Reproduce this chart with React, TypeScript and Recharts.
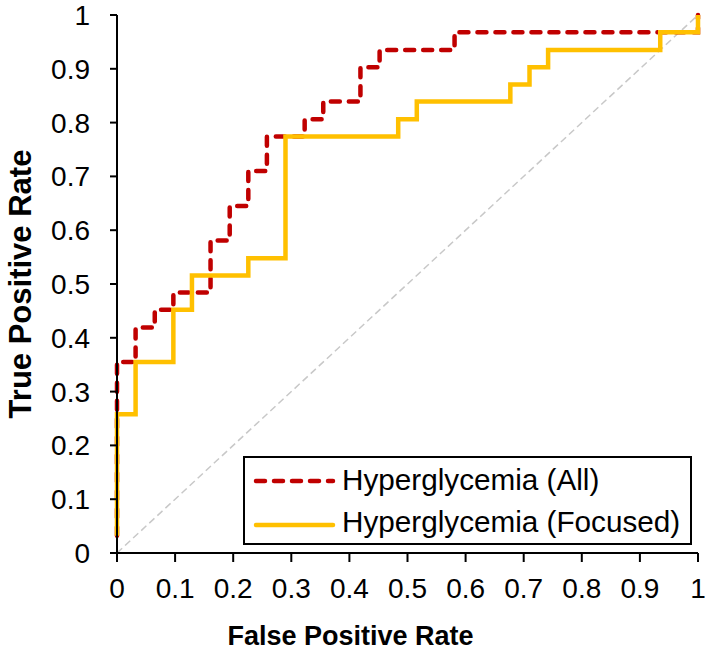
import React from 'react';
import { Legend, Line, LineChart, XAxis, YAxis } from 'recharts';

const ticks = [0, 0.1, 0.2, 0.3, 0.4, 0.5, 0.6, 0.7, 0.8, 0.9, 1];

// ROC points (step changes)
const allFpr = [0, 0, 0.032, 0.065, 0.097, 0.161, 0.194, 0.226, 0.258, 0.323, 0.355, 0.419, 0.452, 0.581, 1];
const allTpr = [0.032, 0.355, 0.419, 0.452, 0.484, 0.581, 0.645, 0.71, 0.774, 0.806, 0.839, 0.903, 0.935, 0.968, 1];

const focusedFpr = [0, 0, 0.032, 0.097, 0.129, 0.226, 0.29, 0.484, 0.516, 0.677, 0.71, 0.742, 0.935, 1];
const focusedTpr = [0.032, 0.258, 0.355, 0.452, 0.516, 0.548, 0.774, 0.806, 0.839, 0.871, 0.903, 0.935, 0.968, 1];

const chanceFpr = [0, 1];
const chanceTpr = [0, 1];

const toPoints = (xs: number[], ys: number[]) => xs.map((x, i) => ({ x, y: ys[i] }));
const allData = toPoints(allFpr, allTpr);
const focusedData = toPoints(focusedFpr, focusedTpr);
const chanceData = toPoints(chanceFpr, chanceTpr);

const FONT = '"Liberation Sans", Arial, sans-serif';
const RED = '#C00000';
const YELLOW = '#FFC000';

function XTick(props: any) {
  const { x, y, payload } = props;
  return (
    <text x={x} y={y} dy="0.716em" textAnchor="middle" fontFamily={FONT} fontSize={28} fill="#000">
      {String(payload.value)}
    </text>
  );
}

function YTick(props: any) {
  const { x, y, payload } = props;
  return (
    <text x={x} y={y} dy="0.36em" textAnchor="end" fontFamily={FONT} fontSize={28} fill="#000">
      {String(payload.value)}
    </text>
  );
}

function YTitle(props: any) {
  const { viewBox } = props;
  const cx = viewBox.x + 20;
  const cy = viewBox.y + viewBox.height / 2;
  return (
    <text x={cx} y={cy} transform={`rotate(-90, ${cx}, ${cy})`} textAnchor="middle" dominantBaseline="central"
      fontFamily={FONT} fontSize={31} fontWeight="bold" fill="#000">
      True Positive Rate
    </text>
  );
}

function XTitle(props: any) {
  const { viewBox } = props;
  const cx = viewBox.x + viewBox.width / 2 - 57;
  const by = viewBox.y + 92;
  return (
    <text x={cx} y={by} textAnchor="middle"
      fontFamily={FONT} fontSize={27} fontWeight="bold" fill="#000">
      False Positive Rate
    </text>
  );
}

function LegendBox() {
  const rows = [
    { name: 'Hyperglycemia (All)', color: RED, dash: '9 9' },
    { name: 'Hyperglycemia (Focused)', color: YELLOW, dash: undefined },
  ];
  return (
    <div style={{ width: 449, height: 89, boxSizing: 'border-box', border: '2px solid #000', background: '#fff', fontFamily: FONT }}>
      {rows.map((r, i) => (
        <div key={r.name} style={{ display: 'flex', alignItems: 'center', height: 42, marginTop: i === 0 ? 1 : 0 }}>
          <svg width={97} height={20} style={{ flex: 'none' }}>
            <line x1={11} y1={i === 0 ? 11 : 13} x2={88} y2={i === 0 ? 11 : 13} stroke={r.color} strokeWidth={4.5}
              strokeDasharray={r.dash} strokeLinecap="round" />
          </svg>
          <span style={{ fontSize: 29.7, lineHeight: '34px', color: '#000', whiteSpace: 'nowrap' }}>{r.name}</span>
        </div>
      ))}
    </div>
  );
}

export default function App() {
  return (
    <div style={{ position: 'absolute', left: 0, top: 0, background: '#fff' }}>
      <LineChart width={705} height={650} margin={{ top: 15, right: 7, bottom: 0, left: 0 }}>
        <XAxis dataKey="x" type="number" domain={[0, 1]} ticks={ticks} interval={0} height={97}
          tick={<XTick />} tickSize={9} tickMargin={16}
          axisLine={{ stroke: '#000', strokeWidth: 2 }} tickLine={{ stroke: '#000', strokeWidth: 2 }}
          label={<XTitle />} />
        <YAxis type="number" domain={[0, 1]} ticks={ticks} interval={0} width={117}
          tick={<YTick />} tickSize={7} tickMargin={20}
          axisLine={{ stroke: '#000', strokeWidth: 2 }} tickLine={{ stroke: '#000', strokeWidth: 2 }}
          label={<YTitle />} />
        <XAxis xAxisId="top" orientation="top" type="number" domain={[0, 1]} height={0} tick={false} tickLine={false}
          axisLine={{ stroke: '#222', strokeWidth: 2 }} />
        <YAxis yAxisId="right" orientation="right" type="number" domain={[0, 1]} width={0} tick={false} tickLine={false}
          axisLine={{ stroke: '#000', strokeWidth: 2 }} />
        <Legend layout="vertical" align="center" verticalAlign="middle" content={<LegendBox />}
          wrapperStyle={{ left: 243, top: 456, width: 449, height: 89 }} />
        <Line data={chanceData} dataKey="y" type="linear" stroke="#c8c8c8" strokeWidth={1.5} strokeDasharray="7 4"
          dot={false} activeDot={false} isAnimationActive={false} legendType="none" />
        <Line data={allData} dataKey="y" name="Hyperglycemia (All)" type="stepAfter" stroke={RED} strokeWidth={4.5}
          strokeDasharray="9 9" strokeLinecap="round" dot={false} activeDot={false} isAnimationActive={false} />
        <Line data={focusedData} dataKey="y" name="Hyperglycemia (Focused)" type="stepAfter" stroke={YELLOW} strokeWidth={4.5}
          dot={false} activeDot={false} isAnimationActive={false} />
      </LineChart>
    </div>
  );
}
